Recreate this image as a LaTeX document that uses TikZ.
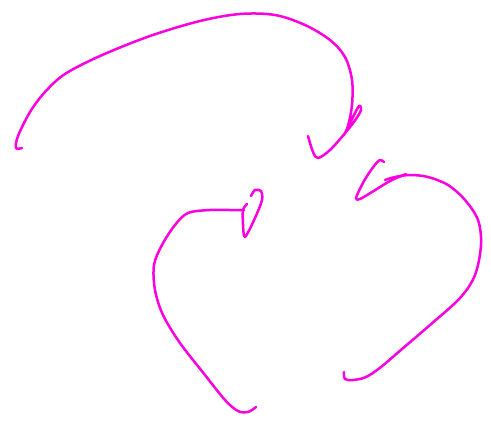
\documentclass[tikz,border=0pt]{standalone}
\definecolor{pen}{RGB}{250,0,225}
\begin{document}
\begin{tikzpicture}[x=1pt,y=-1pt,
  stroke/.style={draw=pen,line width=2.5pt,line cap=round,line join=round}]
\useasboundingbox (0,0) rectangle (491,424);
% top curve
\draw[stroke] plot[smooth,tension=0.55] coordinates {(22,148) (16,148) (18,136) (30,112) (45,92) (65,74) (100,56) (150,36) (200,21) (240,14) (275,15) (305,25) (330,40) (345,57) (352,80) (352,105) (348,126) (344,135) (352,119) (359,106) (361,110) (356,119) (346,132) (330,150) (318,158) (313,152) (308,136)};
% right curve
\draw[stroke] plot[smooth,tension=0.55] coordinates {(344,372) (345,379) (353,380) (366,377) (381,367) (402,349) (430,325) (460,298) (475,275) (481,245) (478,220) (465,200) (448,185) (428,177) (410,175) (395,177) (385,180)};
\draw[stroke] plot[smooth,tension=0.5] coordinates {(384,162) (380,160) (374,166) (364,181) (356,198) (360,199) (372,192) (390,181) (406,174)};
% left curve
\draw[stroke] plot[smooth,tension=0.55] coordinates {(256,407) (248,412) (238,411) (225,400) (205,375) (180,343) (163,315) (155,290) (154,265) (162,245) (175,225) (188,213) (210,210) (230,210) (244,210)};
\draw[stroke] plot[smooth,tension=0.5] coordinates {(251,196) (255,190) (261,191) (262,200) (255,218) (245,237) (243,224) (243,210) (247,204)};
\end{tikzpicture}
\end{document}
